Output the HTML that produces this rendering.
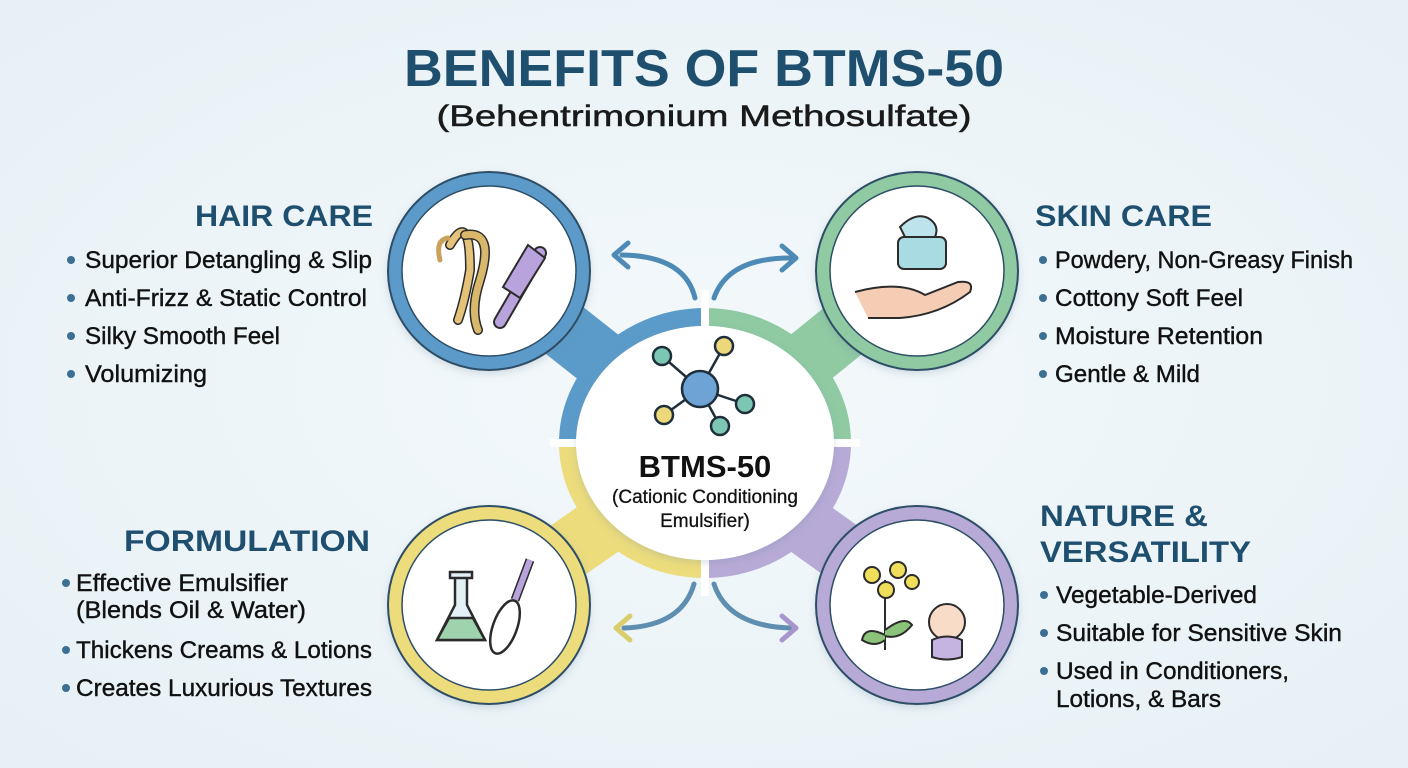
<!DOCTYPE html>
<html><head><meta charset="utf-8">
<style>
html,body{margin:0;padding:0;width:1408px;height:768px;overflow:hidden;}
svg{display:block}
</style></head>
<body>
<svg width="1408" height="768" viewBox="0 0 1408 768" xmlns="http://www.w3.org/2000/svg" font-family="Liberation Sans, sans-serif">
<defs>
<radialGradient id="bg" cx="50%" cy="50%" r="70%">
<stop offset="0" stop-color="#f4f9fb"/><stop offset="1" stop-color="#e6f0f5"/>
</radialGradient>
<filter id="sh" x="-20%" y="-20%" width="140%" height="140%"><feDropShadow dx="0" dy="3" stdDeviation="4" flood-color="#6a8aa0" flood-opacity="0.25"/></filter>
</defs>
<rect width="1408" height="768" fill="url(#bg)"/>

<text x="704" y="86" text-anchor="middle" font-weight="bold" font-size="52" fill="#1f4f6f" textLength="600" lengthAdjust="spacingAndGlyphs">BENEFITS OF BTMS-50</text>
<text x="704" y="126" text-anchor="middle" font-size="30" fill="#1a1a1a" stroke="#1a1a1a" stroke-width="0.5" textLength="535" lengthAdjust="spacingAndGlyphs">(Behentrimonium Methosulfate)</text>

<g stroke-linecap="round">
<line x1="489" y1="271" x2="640" y2="390" stroke="#5b9bc9" stroke-width="60"/>
<line x1="917" y1="271" x2="770" y2="390" stroke="#8fcaa2" stroke-width="60"/>
<line x1="489" y1="605" x2="640" y2="500" stroke="#ecdc7c" stroke-width="60"/>
<line x1="917" y1="605" x2="770" y2="500" stroke="#b8aad6" stroke-width="60"/>
</g>

<g filter="url(#sh)">
<ellipse cx="489" cy="271" rx="101" ry="99" fill="#5b9bc9" stroke="#2d4e66" stroke-width="2"/>
<ellipse cx="917" cy="271" rx="101" ry="99" fill="#8fcaa2" stroke="#2d4e66" stroke-width="2"/>
<ellipse cx="489" cy="605" rx="101" ry="99" fill="#ecdc7c" stroke="#2d4e66" stroke-width="2"/>
<ellipse cx="917" cy="605" rx="101" ry="99" fill="#b8aad6" stroke="#2d4e66" stroke-width="2"/>
</g>
<ellipse cx="489" cy="271" rx="87" ry="85" fill="#fff" stroke="#2d4e66" stroke-width="1.5"/>
<ellipse cx="917" cy="271" rx="87" ry="85" fill="#fff" stroke="#2d4e66" stroke-width="1.5"/>
<ellipse cx="489" cy="605" rx="87" ry="85" fill="#fff" stroke="#2d4e66" stroke-width="1.5"/>
<ellipse cx="917" cy="605" rx="87" ry="85" fill="#fff" stroke="#2d4e66" stroke-width="1.5"/>

<g fill="none" stroke-width="18">
<path d="M568 443 A137 126 0 0 1 705 317" stroke="#5b9bc9"/>
<path d="M705 317 A137 126 0 0 1 842 443" stroke="#8fcaa2"/>
<path d="M842 443 A137 126 0 0 1 705 569" stroke="#b8aad6"/>
<path d="M705 569 A137 126 0 0 1 568 443" stroke="#ecdc7c"/>
</g>
<g stroke="#fff" stroke-width="8">
<line x1="705" y1="290" x2="705" y2="330"/><line x1="705" y1="556" x2="705" y2="596"/>
<line x1="550" y1="443" x2="585" y2="443"/><line x1="825" y1="443" x2="860" y2="443"/>
</g>
<ellipse cx="705" cy="443" rx="129" ry="117" fill="#fff" filter="url(#sh)"/>

<g fill="none" stroke-width="5" stroke-linecap="round" stroke-linejoin="round">
<path d="M695 298 Q685 256 622 255" stroke="#4d8ab6"/>
<path d="M628 243 L614 255 L628 267" stroke="#4d8ab6"/>
<path d="M714 298 Q728 258 790 258" stroke="#4d8ab6"/>
<path d="M782 246 L796 258 L782 270" stroke="#4d8ab6"/>
<path d="M694 584 Q682 626 624 628" stroke="#5f8fb0"/>
<path d="M630 616 L616 628 L630 640" stroke="#d9cd6c"/>
<path d="M714 584 Q728 626 790 628" stroke="#5f8fb0"/>
<path d="M782 616 L796 628 L782 640" stroke="#a796cc"/>
</g>

<g stroke="#1e2e3a" stroke-width="2.5">
<line x1="700" y1="389" x2="662" y2="356"/><line x1="700" y1="389" x2="724" y2="346"/>
<line x1="700" y1="389" x2="745" y2="404"/><line x1="700" y1="389" x2="720" y2="426"/>
<line x1="700" y1="389" x2="664" y2="415"/>
<circle cx="662" cy="356" r="9" fill="#7cc7b3"/><circle cx="724" cy="346" r="9" fill="#ecd77a"/>
<circle cx="745" cy="404" r="9" fill="#7cc7b3"/><circle cx="720" cy="426" r="9" fill="#7cc7b3"/>
<circle cx="664" cy="415" r="9" fill="#ecd77a"/>
<circle cx="700" cy="389" r="18" fill="#6ea3d6"/>
</g>
<text x="705" y="477" text-anchor="middle" font-weight="bold" font-size="31" fill="#111">BTMS-50</text>
<text x="705" y="503" text-anchor="middle" font-size="19" fill="#111" stroke="#111" stroke-width="0.3">(Cationic Conditioning</text>
<text x="705" y="527" text-anchor="middle" font-size="19" fill="#111" stroke="#111" stroke-width="0.3">Emulsifier)</text>

<g fill="none" stroke-linecap="round">
<path d="M450 245 Q470 210 470 270 Q465 300 458 320" stroke="#2b2b2b" stroke-width="10"/>
<path d="M450 245 Q470 210 470 270 Q465 300 458 320" stroke="#e4c27a" stroke-width="7"/>
<path d="M465 235 Q495 230 480 280 Q470 310 478 330" stroke="#2b2b2b" stroke-width="10"/>
<path d="M465 235 Q495 230 480 280 Q470 310 478 330" stroke="#d9b86c" stroke-width="7"/>
<path d="M440 260 Q435 240 448 238" stroke="#c9a25c" stroke-width="5"/>
<path d="M540 253 L500 322" stroke="#2b2b2b" stroke-width="14"/>
<path d="M540 253 L500 322" stroke="#b9a3dd" stroke-width="10"/>
<path d="M528 245 L545 258 L520 298 L503 287 Z" stroke="#2b2b2b" stroke-width="2" fill="#b9a3dd"/>
</g>
<g stroke="#2b2b2b" stroke-width="2">
<path d="M900 227 Q915 212 928 218 Q940 225 935 237 L905 237 Z" fill="#bde3ec"/>
<rect x="898" y="237" width="48" height="32" rx="6" fill="#a8dbe2"/>
<path d="M855 292 Q900 280 925 295 L958 282 Q975 280 970 292 Q940 315 900 318 L868 318" fill="#f5cdb5"/>
</g>
<g stroke="#2b2b2b" stroke-width="2.5">
<path d="M455 577 L455 605 L437 640 L485 640 L467 605 L467 577 Z" fill="#e3f1f7"/>
<path d="M449 618 L473 618 L485 640 L437 640 Z" fill="#9fd3ae"/>
<rect x="450" y="572" width="22" height="6" fill="#e3f1f7"/>
<line x1="530" y1="560" x2="515" y2="600" stroke-width="9"/>
<line x1="530" y1="560" x2="515" y2="600" stroke="#b9a3dd" stroke-width="6"/>
<ellipse cx="505" cy="627" rx="12" ry="28" fill="none" transform="rotate(20 505 627)"/>
</g>
<g stroke="#2b2b2b" stroke-width="2">
<path d="M885 650 L885 580" fill="none"/>
<path d="M885 635 Q865 625 862 640 Q875 648 885 640" fill="#8bc37a"/>
<path d="M885 630 Q905 615 912 625 Q900 640 885 636" fill="#8bc37a"/>
<circle cx="872" cy="575" r="8" fill="#f0de5a"/><circle cx="898" cy="570" r="8" fill="#f0de5a"/>
<circle cx="886" cy="590" r="8" fill="#f0de5a"/><circle cx="912" cy="582" r="7" fill="#f0de5a"/>
<circle cx="947" cy="622" r="18" fill="#f8dcc8"/>
<path d="M932 640 Q947 633 962 640 L962 657 Q947 662 932 657 Z" fill="#c5b3e2"/>
</g>

<g fill="#1f4f6f" font-weight="bold" font-size="30">
<text x="373" y="226" text-anchor="end" textLength="178" lengthAdjust="spacingAndGlyphs">HAIR CARE</text>
<text x="370" y="551" text-anchor="end" textLength="246" lengthAdjust="spacingAndGlyphs">FORMULATION</text>
<text x="1035" y="226" textLength="177" lengthAdjust="spacingAndGlyphs">SKIN CARE</text>
<text x="1040" y="526" textLength="168" lengthAdjust="spacingAndGlyphs">NATURE &amp;</text>
<text x="1040" y="562" textLength="211" lengthAdjust="spacingAndGlyphs">VERSATILITY</text>
</g>
<g fill="#3b6f93">
<circle cx="71" cy="260" r="4"/><circle cx="71" cy="298" r="4"/><circle cx="71" cy="336" r="4"/><circle cx="71" cy="374" r="4"/>
<circle cx="66" cy="583" r="4"/><circle cx="66" cy="650" r="4"/><circle cx="66" cy="688" r="4"/>
<circle cx="1043" cy="260" r="4"/><circle cx="1043" cy="298" r="4"/><circle cx="1043" cy="336" r="4"/><circle cx="1043" cy="374" r="4"/>
<circle cx="1044" cy="595" r="4"/><circle cx="1044" cy="633" r="4"/><circle cx="1044" cy="671" r="4"/>
</g>
<g fill="#111" stroke="#111" stroke-width="0.4" font-size="24">
<text x="85" y="268" textLength="287" lengthAdjust="spacingAndGlyphs">Superior Detangling &amp; Slip</text>
<text x="85" y="306" textLength="282" lengthAdjust="spacingAndGlyphs">Anti-Frizz &amp; Static Control</text>
<text x="85" y="344" textLength="195" lengthAdjust="spacingAndGlyphs">Silky Smooth Feel</text>
<text x="85" y="382" textLength="122" lengthAdjust="spacingAndGlyphs">Volumizing</text>
<text x="76" y="591" textLength="212" lengthAdjust="spacingAndGlyphs">Effective Emulsifier</text>
<text x="76" y="618" textLength="230" lengthAdjust="spacingAndGlyphs">(Blends Oil &amp; Water)</text>
<text x="76" y="658" textLength="296" lengthAdjust="spacingAndGlyphs">Thickens Creams &amp; Lotions</text>
<text x="76" y="696" textLength="296" lengthAdjust="spacingAndGlyphs">Creates Luxurious Textures</text>
<text x="1055" y="268" textLength="298" lengthAdjust="spacingAndGlyphs">Powdery, Non-Greasy Finish</text>
<text x="1055" y="306" textLength="188" lengthAdjust="spacingAndGlyphs">Cottony Soft Feel</text>
<text x="1055" y="344" textLength="208" lengthAdjust="spacingAndGlyphs">Moisture Retention</text>
<text x="1055" y="382" textLength="145" lengthAdjust="spacingAndGlyphs">Gentle &amp; Mild</text>
<text x="1056" y="603" textLength="201" lengthAdjust="spacingAndGlyphs">Vegetable-Derived</text>
<text x="1056" y="641" textLength="286" lengthAdjust="spacingAndGlyphs">Suitable for Sensitive Skin</text>
<text x="1056" y="679" textLength="233" lengthAdjust="spacingAndGlyphs">Used in Conditioners,</text>
<text x="1056" y="707" textLength="165" lengthAdjust="spacingAndGlyphs">Lotions, &amp; Bars</text>
</g>
</svg>
</body></html>
